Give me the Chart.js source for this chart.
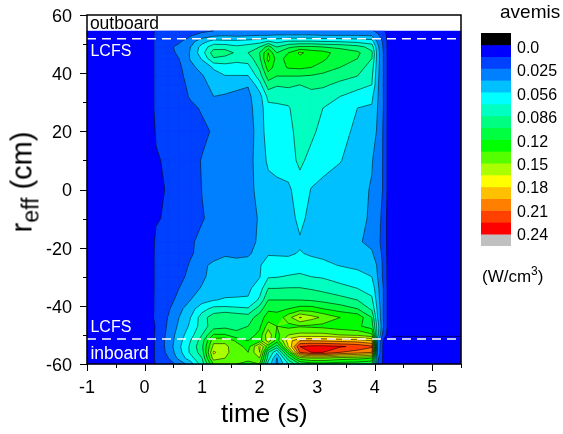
<!DOCTYPE html>
<html>
<head>
<meta charset="utf-8">
<script src="https://cdn.jsdelivr.net/npm/chart.js@4"></script>
<style>
    body { margin: 0; background: #fff; font-family: "Liberation Sans", Arial, sans-serif; color: #000; }
    #wrap { position: relative; width: 563px; height: 434px; overflow: hidden; }
    canvas { position: absolute; }
    .txt { position: absolute; white-space: nowrap; line-height: 1; }
    sub, sup { line-height: 0; }
</style>
</head>
<body>
<div id="wrap">
    <canvas id="contourChart" width="563" height="434" style="left:0;top:0"></canvas>
    <canvas id="barChart" width="98" height="300" style="left:465px;top:0"></canvas>
    <div class="txt" style="left:500px;top:2px;font-size:19px">avemis</div>
    <div class="txt" style="left:482px;top:268px;font-size:17px">(W/cm<sup style="font-size:12px">3</sup>)</div>
    <div class="txt" style="left:221px;top:400px;font-size:26px">time (s)</div>
    <div class="txt" id="yTitle" style="left:22px;top:182px;font-size:29px;transform:translate(-50%,-50%) rotate(-90deg)">r<sub style="font-size:23px;vertical-align:baseline;position:relative;top:7px">eff</sub> (cm)</div>
</div>
<script>
// contour grid, values are in colourbar steps (1 step is about 0.015 W/cm3)
const times = [-1, 0.1, 0.2, 0.4, 0.6, 0.8, 1, 1.2, 1.4, 1.6, 1.8, 2, 2.15, 2.3, 2.5, 2.7, 2.9, 3.1, 3.4, 3.7, 3.95, 4.05, 4.15, 4.25, 5.5];
const radii = [54.5, 53, 51, 49, 47, 45, 42, 39, 36, 32, 28, 20, 10, 0, -10, -18, -22, -26, -30, -34, -38, -41, -44, -47, -50, -52, -54, -56, -58, -60];

const row54 = [.3, .5, 1.2, 1.3, 1.4, 1.5, 1.8, 2, 2, 2, 2.1, 2.2, 2.2, 2.2, 2.2, 2.2, 2.2, 2.2, 2.2, 2.2, 2.1, 1.8, 1.2, .5, .3];
const row53 = [.3, .5, 1.3, 1.4, 1.6, 1.9, 2.4, 2.8, 2.9, 2.8, 2.9, 3, 3, 3.1, 3.1, 3.1, 3.1, 3, 3, 3, 2.9, 2.2, 1.5, .5, .3];
const row51 = [.3, .5, 1.3, 1.5, 1.8, 2.6, 3.6, 4.3, 4.2, 4.2, 4.3, 4.5, 5, 4.6, 5, 5, 5, 4.9, 4.8, 4.6, 4.4, 2.8, 1.8, .5, .3];
const row49 = [.3, .5, 1.3, 1.7, 2.3, 3, 4.4, 5.6, 5.6, 5.2, 5.5, 6, 7.5, 6, 6.8, 7.2, 7.2, 7, 6.8, 6.4, 5.6, 3.3, 1.9, .5, .3];
const row47 = [.3, .5, 1.3, 1.6, 2.2, 3.1, 4.6, 6.5, 6.5, 5.8, 6, 7, 9, 7, 8, 9.2, 8.6, 8.4, 7.5, 7.2, 6.2, 3.5, 2, .5, .3];
const row45 = [.3, .5, 1.3, 1.5, 2, 3.1, 4.1, 5.9, 5.6, 5.3, 5.4, 6.8, 9.3, 7.6, 8.3, 8.7, 8.5, 8.2, 7.3, 7, 6, 3.5, 2, .5, .3];
const row42 = [.3, .5, 1.3, 1.5, 1.8, 2.7, 3.4, 4.1, 4.6, 4.6, 4.7, 6.2, 8.5, 7.5, 8.1, 8.2, 8, 7.6, 7, 6.5, 5.5, 3.4, 2, .5, .3];
const row39 = [.3, .5, 1.3, 1.5, 1.7, 2.5, 2.9, 3.7, 3.95, 3.95, 3.95, 5.5, 7.5, 7, 7, 7, 6.9, 6.7, 6.4, 6, 5.2, 3.3, 2, .5, .3];
const row36 = [.3, .5, 1.3, 1.4, 1.6, 2.3, 2.7, 3.3, 3.2, 3.1, 3.05, 4.6, 6.5, 6.1, 6.2, 6, 6.2, 6.2, 5.7, 5.4, 5, 3.2, 2, .5, .3];
const row32 = [.3, .5, 1.3, 1.4, 1.6, 2.1, 2.5, 3, 2.95, 2.9, 2.8, 3.6, 5.3, 5.3, 5.4, 5.7, 5.7, 5.4, 5, 4.5, 4.2, 3.1, 2, .5, .3];
const row28 = [.3, .5, 1.3, 1.4, 1.5, 1.8, 2.1, 2.7, 2.6, 2.6, 2.7, 3.5, 4.7, 4.8, 4.9, 5.6, 5.4, 5, 4.6, 4, 3.9, 3, 2, .5, .3];
const row20 = [.3, .5, 1.1, 1.3, 1.4, 1.6, 1.8, 2.1, 2.2, 2.3, 2.5, 3.5, 4.5, 4.5, 4.7, 5.4, 5.2, 4.7, 4.3, 3.8, 3.4, 2.9, 1.9, .5, .3];
const row10 = [.3, .5, .9, 1.15, 1.3, 1.7, 2.05, 2.2, 2.3, 2.4, 2.7, 3.4, 4.2, 4.4, 4.6, 5.2, 4.7, 4.4, 4.05, 3.5, 3.05, 2.7, 1.9, .5, .3];
const row0 = [.3, .5, .85, 1.05, 1.3, 1.6, 2.02, 2.2, 2.3, 2.5, 2.8, 3.2, 3.6, 3.7, 3.8, 4.6, 3.95, 3.7, 3.5, 3.2, 2.95, 2.6, 1.9, .5, .3];
const rowM10 = [.3, .5, .9, 1.15, 1.3, 1.6, 1.95, 2.2, 2.3, 2.5, 2.8, 3.05, 3.3, 3.4, 3.6, 4.25, 3.7, 3.4, 3.2, 3.2, 2.9, 2.5, 1.6, .5, .3];
const rowM18 = [.3, .5, 1.2, 1.3, 1.5, 1.9, 2.2, 2.4, 2.5, 2.6, 2.8, 3.1, 3.5, 3.6, 3.8, 3.9, 3.7, 3.5, 3.3, 3.1, 2.8, 2.3, 1.6, .5, .3];
const rowM22 = [.3, .5, 1.25, 1.3, 1.5, 1.9, 2.3, 2.6, 2.9, 2.8, 2.85, 3.4, 3.9, 3.9, 3.9, 4.05, 3.9, 3.8, 3.6, 3.4, 3.1, 2.6, 1.7, .5, .3];
const rowM26 = [.3, .5, 1.25, 1.4, 1.6, 2.1, 2.8, 3.2, 3.3, 3.3, 3.4, 3.9, 4.5, 4.4, 4.3, 4.5, 4.3, 4.2, 3.95, 3.8, 3.5, 2.9, 1.8, .5, .3];
const rowM30 = [.3, .5, 1.25, 1.4, 1.7, 2.3, 2.8, 3.4, 3.5, 3.5, 3.6, 3.95, 4.9, 4.95, 5.1, 5.2, 5, 4.9, 4.6, 4.3, 4, 3, 1.8, .5, .3];
const rowM34 = [.3, .5, 1.25, 1.5, 2, 2.6, 3.1, 3.5, 3.6, 3.7, 3.8, 4.5, 6, 6, 6.05, 6.05, 5.9, 5.7, 5.3, 5, 4.6, 3.3, 2, .5, .3];
const rowM38 = [.3, .5, 1.3, 1.6, 2.3, 3, 3.6, 3.95, 4.1, 4.1, 4.1, 5.2, 7, 7, 7, 7, 6.9, 6.7, 6.4, 6, 5.2, 3.5, 2, .5, .3];
const rowM41 = [.3, .5, 1.3, 1.8, 2.7, 3.6, 4.6, 5.3, 5.3, 5.2, 5.1, 6.5, 7.8, 7.8, 8, 8.4, 8.4, 8, 7.5, 7, 5.8, 3.8, 2, .5, .3];
const rowM44 = [.3, .5, 1.4, 2, 3, 4, 5.5, 6.6, 7, 6.7, 6.5, 7.5, 8.5, 8.3, 9.6, 11.1, 10.4, 9.8, 9, 8.7, 7, 4, 2, .5, .3];
const rowM47 = [.3, .5, 1.1, 2.1, 3.2, 4.2, 5.5, 6.5, 6.7, 6.8, 7, 7.8, 9.5, 9, 8.7, 8.9, 8.8, 8.7, 8.4, 8.2, 7.5, 4.5, 2.1, .5, .3];
const rowM50 = [.3, .5, 1.2, 2.2, 3.5, 4.6, 6, 8.1, 8.1, 7.2, 7.5, 8.3, 10.8, 8.7, 10, 10.3, 10.3, 10.3, 10, 9.8, 9.2, 4.5, 1.5, .5, .3];
const rowM52 = [.3, .5, 1.2, 2.3, 3.6, 5, 6.5, 9.7, 9.8, 8.8, 8, 8.6, 10.5, 8.5, 11.5, 13, 13, 12.9, 12.7, 12.5, 12, 3, .9, .5, .3];
const rowM54 = [.3, .5, 1.2, 2.3, 3.8, 5.2, 6.8, 10.3, 10.2, 9.5, 8.6, 11.2, 8.5, 6.5, 11, 15, 15.3, 15.3, 15.1, 14.8, 14.2, 3, .8, .5, .3];
const rowM56 = [.3, .5, 1.2, 2.2, 3.6, 5.2, 6.5, 11.2, 10.2, 9.6, 9, 11, 6, 4.2, 8.5, 14, 15, 15, 14, 13.5, 13, 2.8, .8, .5, .3];
const rowM58 = [.3, .5, 1.2, 1.9, 3.3, 4.6, 6, 10.5, 10, 9.5, 9.2, 10, 5.5, 2.9, 6.5, 9.5, 10, 10, 9.5, 9.3, 9, 2.3, .8, .5, .3];
const rowM60 = [.3, .5, 1.1, 1.5, 2.3, 3.5, 5.5, 9, 9, 9, 8.8, 9, 4.5, 2.8, 5, 7, 7.5, 7.6, 7.4, 7.3, 7, 2, .8, .5, .3];
const gridRows = [row54, row53, row51, row49, row47, row45, row42, row39, row36, row32, row28, row20, row10, row0, rowM10, rowM18, rowM22, rowM26, rowM30, rowM34, rowM38, rowM41, rowM44, rowM47, rowM50, rowM52, rowM54, rowM56, rowM58, rowM60];

const lcfsOut = 51.8;
const lcfsIn = -51.4;
const edgeLine = -50.5;

const barColors = ['#000000', '#0000ff', '#0040ff', '#0080ff', '#00c0ff', '#00ffff', '#00ffc0', '#00ff80', '#00ff40', '#00ff00', '#55ff00', '#aaff00', '#ffff00', '#ffc000', '#ff8000', '#ff4000', '#ff0000', '#c0c0c0'];
const barLabels = ['0.0', '0.025', '0.056', '0.086', '0.12', '0.15', '0.18', '0.21', '0.24'];

// clip one grid cell to value >= level, returns the polygon corners
const clipCell = (corners, level) => {
    const out = [];
    for (let i = 0; i < corners.length; i++) {
        const a = corners[i];
        const b = corners[(i + 1) % corners.length];
        if (a.v >= level) out.push(a);
        if ((a.v >= level) !== (b.v >= level)) {
            const f = (level - a.v) / (b.v - a.v);
            out.push({ x: a.x + (b.x - a.x) * f, y: a.y + (b.y - a.y) * f, v: level, cut: true });
        }
    }
    return out;
};

const contourPlugin = {
    id: 'contourPlugin',
    beforeDatasetsDraw(chart) {
        const { ctx, scales: { x, y } } = chart;
        const cells = [];
        for (let j = 0; j < radii.length - 1; j++) {
            for (let i = 0; i < times.length - 1; i++) {
                const px0 = x.getPixelForValue(times[i]);
                const px1 = x.getPixelForValue(times[i + 1]);
                const py0 = y.getPixelForValue(radii[j]);
                const py1 = y.getPixelForValue(radii[j + 1]);
                cells.push([
                    { x: px0, y: py0, v: gridRows[j][i] },
                    { x: px1, y: py0, v: gridRows[j][i + 1] },
                    { x: px1, y: py1, v: gridRows[j + 1][i + 1] },
                    { x: px0, y: py1, v: gridRows[j + 1][i] },
                ]);
            }
        }
        ctx.save();
        // painter's order, every band is laid over the one below it
        for (let k = 0; k < barColors.length - 2; k++) {
            ctx.beginPath();
            cells.forEach(cell => {
                const poly = clipCell(cell, k);
                if (poly.length < 3) return;
                poly.forEach((p, n) => (n ? ctx.lineTo(p.x, p.y) : ctx.moveTo(p.x, p.y)));
                ctx.closePath();
            });
            ctx.fillStyle = barColors[k + 1];
            ctx.fill();
            ctx.strokeStyle = barColors[k + 1];
            ctx.lineWidth = 0.4;
            ctx.stroke();
        }
        ctx.strokeStyle = 'rgba(0,0,0,0.8)';
        ctx.lineWidth = 0.7;
        ctx.beginPath();
        for (let k = 1; k < barColors.length - 2; k++) {
            cells.forEach(cell => {
                const cuts = clipCell(cell, k).filter(p => p.cut);
                for (let n = 0; n + 1 < cuts.length; n += 2) {
                    ctx.moveTo(cuts[n].x, cuts[n].y);
                    ctx.lineTo(cuts[n + 1].x, cuts[n + 1].y);
                }
            });
        }
        ctx.stroke();
        ctx.restore();
    },
    afterDraw(chart) {
        const { ctx, chartArea: a, scales: { x, y } } = chart;
        ctx.save();
        ctx.strokeStyle = '#000';
        ctx.lineWidth = 1.5;
        ctx.strokeRect(a.left, a.top, a.right - a.left, a.bottom - a.top);
        // ticks are drawn here since Chart.js has one tick length per axis
        ctx.lineWidth = 1;
        ctx.beginPath();
        x.ticks.forEach(t => {
            const len = Number.isInteger(t.value) ? 7 : 4;
            const px = Math.round(x.getPixelForValue(t.value)) + 0.5;
            ctx.moveTo(px, a.bottom);
            ctx.lineTo(px, a.bottom + len);
        });
        y.ticks.forEach(t => {
            const len = t.value % 20 === 0 ? 7 : 4;
            const py = Math.round(y.getPixelForValue(t.value)) + 0.5;
            ctx.moveTo(a.left, py);
            ctx.lineTo(a.left - len, py);
        });
        ctx.stroke();
        ctx.textBaseline = 'middle';
        ctx.textAlign = 'left';
        ctx.font = '17.5px "Liberation Sans"';
        ctx.fillStyle = '#000';
        ctx.fillText('outboard', x.getPixelForValue(-0.95), y.getPixelForValue(57));
        ctx.fillStyle = '#fff';
        ctx.fillText('inboard', x.getPixelForValue(-0.94), y.getPixelForValue(-56.5));
        ctx.font = '16px "Liberation Sans"';
        ctx.fillText('LCFS', x.getPixelForValue(-0.94), y.getPixelForValue(47.5));
        ctx.fillText('LCFS', x.getPixelForValue(-0.94), y.getPixelForValue(-47.5));
        ctx.restore();
    },
};

new Chart(document.getElementById('contourChart'), {
    type: 'scatter',
    data: {
        datasets: [
            {
                data: [{ x: 4.3, y: edgeLine }, { x: 5.5, y: edgeLine }],
                showLine: true,
                borderColor: 'rgba(0,0,0,0.8)',
                borderWidth: 0.7,
                pointRadius: 0,
            },
            {
                data: [{ x: -1, y: lcfsOut }, { x: 5.5, y: lcfsOut }],
                showLine: true,
                borderColor: '#fff',
                borderWidth: 1.5,
                borderDash: [9, 6],
                pointRadius: 0,
            },
            {
                data: [{ x: -1, y: lcfsIn }, { x: 5.5, y: lcfsIn }],
                showLine: true,
                borderColor: '#fff',
                borderWidth: 1.5,
                borderDash: [9, 6],
                pointRadius: 0,
            },
        ],
    },
    plugins: [contourPlugin],
    options: {
        responsive: false,
        animation: false,
        layout: { padding: { top: 15, right: 102, left: 0, bottom: 0 } },
        plugins: { legend: { display: false }, tooltip: { enabled: false } },
        scales: {
            x: {
                type: 'linear',
                min: -1,
                max: 5.5,
                grid: { display: false },
                border: { display: false },
                afterFit: scale => { scale.height = 70; scale.paddingLeft = 0; scale.paddingRight = 0; },
                ticks: {
                    stepSize: 0.5,
                    autoSkip: false,
                    maxRotation: 0,
                    padding: 5,
                    color: '#000',
                    font: { family: 'Liberation Sans', size: 18 },
                    callback: v => (Number.isInteger(v) ? String(v) : ''),
                },
            },
            y: {
                min: -60,
                max: 60,
                grid: { display: false },
                border: { display: false },
                afterFit: scale => { scale.width = 87; scale.paddingTop = 0; scale.paddingBottom = 0; },
                ticks: {
                    stepSize: 10,
                    autoSkip: false,
                    padding: 7,
                    labelOffset: 2,
                    color: '#000',
                    font: { family: 'Liberation Sans', size: 18 },
                    callback: v => (v % 20 === 0 ? String(v) : ''),
                },
            },
        },
    },
});

// colourbar
new Chart(document.getElementById('barChart'), {
    type: 'bar',
    data: {
        labels: ['avemis'],
        datasets: barColors.map(color => ({
            data: [1],
            backgroundColor: color,
            borderWidth: 0,
            barPercentage: 1,
            categoryPercentage: 1,
        })),
    },
    options: {
        responsive: false,
        animation: false,
        layout: { padding: { top: 33, left: 16, right: 0, bottom: 54 } },
        plugins: { legend: { display: false }, tooltip: { enabled: false } },
        scales: {
            x: { stacked: true, display: false },
            y: {
                stacked: true,
                position: 'right',
                reverse: true,
                min: 0,
                max: 18,
                grid: { display: false, drawTicks: false },
                border: { display: false },
                afterFit: scale => { scale.width = 52; },
                afterBuildTicks: scale => {
                    scale.ticks = barLabels.map((label, i) => ({ value: 1.3 + 1.98 * i, label }));
                },
                afterTickToLabelConversion: scale => {
                    scale.ticks.forEach((t, i) => { t.label = barLabels[i]; });
                },
                ticks: {
                    autoSkip: false,
                    padding: 6,
                    color: '#000',
                    font: { family: 'Liberation Sans', size: 16 },
                },
            },
        },
    },
});
</script>
</body>
</html>
